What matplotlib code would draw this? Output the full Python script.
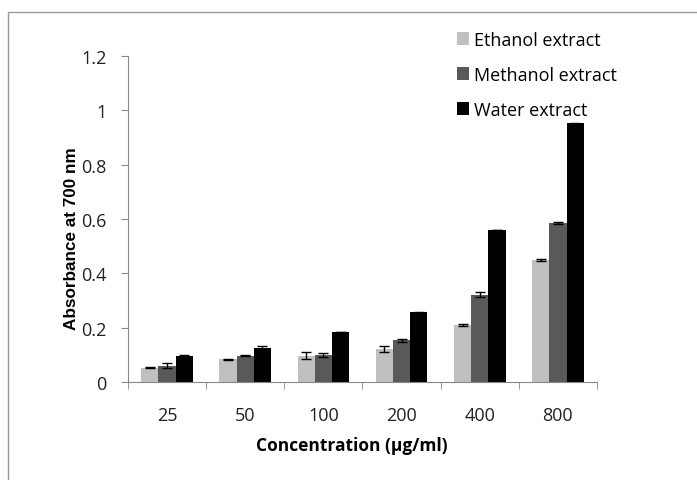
#!/usr/bin/env python3

import matplotlib
matplotlib.use("Agg")
import matplotlib.pyplot as plt
import numpy as np
from matplotlib.patches import Rectangle


concentrations = ["25", "50", "100", "200", "400", "800"]

ethanol = [0.053, 0.083, 0.097, 0.122, 0.209, 0.450]
ethanol_err = [0.002, 0.001, 0.014, 0.012, 0.004, 0.004]

methanol = [0.060, 0.097, 0.099, 0.153, 0.322, 0.586]
methanol_err = [0.010, 0.001, 0.006, 0.006, 0.009, 0.003]

water = [0.094, 0.125, 0.184, 0.257, 0.560, 0.953]
water_err = [0.007, 0.006, 0.0, 0.002, 0.0, 0.002]

series_names = ["Ethanol extract", "Methanol extract", "Water extract"]


def main():
	plt.rcParams['font.family'] = ['Open Sans', 'DejaVu Sans']

	fig = plt.figure(figsize=(6.97, 4.81), dpi=100)
	# axes box: x 128..597 px, y 57..383 px
	ax = fig.add_axes([128 / 697, 1 - 383 / 481, 469 / 697, 326 / 481])

	x = np.arange(len(concentrations))
	w = 0.22
	colors = ["#c0c0c0", "#595959", "#000000"]
	data = [(ethanol, ethanol_err), (methanol, methanol_err), (water, water_err)]

	for i, (vals, errs) in enumerate(data):
		ax.bar(x + (i - 1) * w, vals, w, color=colors[i], label=series_names[i],
			yerr=errs, capsize=3.5, error_kw=dict(elinewidth=1, capthick=1, ecolor="black"))

	ax.set_xlim(-0.5, 5.5)
	ax.set_ylim(0, 1.2)
	ax.set_yticks(np.arange(0, 1.21, 0.2))
	ax.set_yticklabels(["0", "0.2", "0.4", "0.6", "0.8", "1", "1.2"])
	ax.set_xticks(x)
	ax.set_xticklabels(concentrations)
	ax.set_xticks(np.arange(-0.5, 5.6, 1), minor=True)
	ax.tick_params(axis="x", which="major", length=0, pad=17, labelsize=13, colors="#222222")
	ax.tick_params(axis="x", which="minor", length=5, color="#888888", direction="out")
	ax.tick_params(axis="y", length=5, color="#888888", labelsize=13, colors="#222222", pad=10.5)

	for s in ["top", "right"]:
		ax.spines[s].set_visible(False)
	for s in ["left", "bottom"]:
		ax.spines[s].set_color("#888888")

	ax.set_ylabel("Absorbance at 700 nm", fontsize=12.3, fontweight="bold", family="Liberation Sans")
	ax.yaxis.set_label_coords(-0.104, 0.442)
	ax.set_xlabel("Concentration (µg/ml)", fontsize=12.5, fontweight="bold")
	ax.xaxis.set_label_coords(0.478, -0.165)

	fig.legend(loc="upper left", bbox_to_anchor=(0.632, 0.968), frameon=False,
		fontsize=13, handlelength=0.7, handleheight=0.7, handletextpad=0.25,
		labelspacing=0.95)

	fig.patches.append(Rectangle((8 / 697, -0.1), 1.2, 1 - 12.5 / 481 + 0.1,
		transform=fig.transFigure, fill=False, edgecolor="#999999", linewidth=1))

	plt.savefig("out.png", dpi=100)


if __name__ == '__main__':
	main()
